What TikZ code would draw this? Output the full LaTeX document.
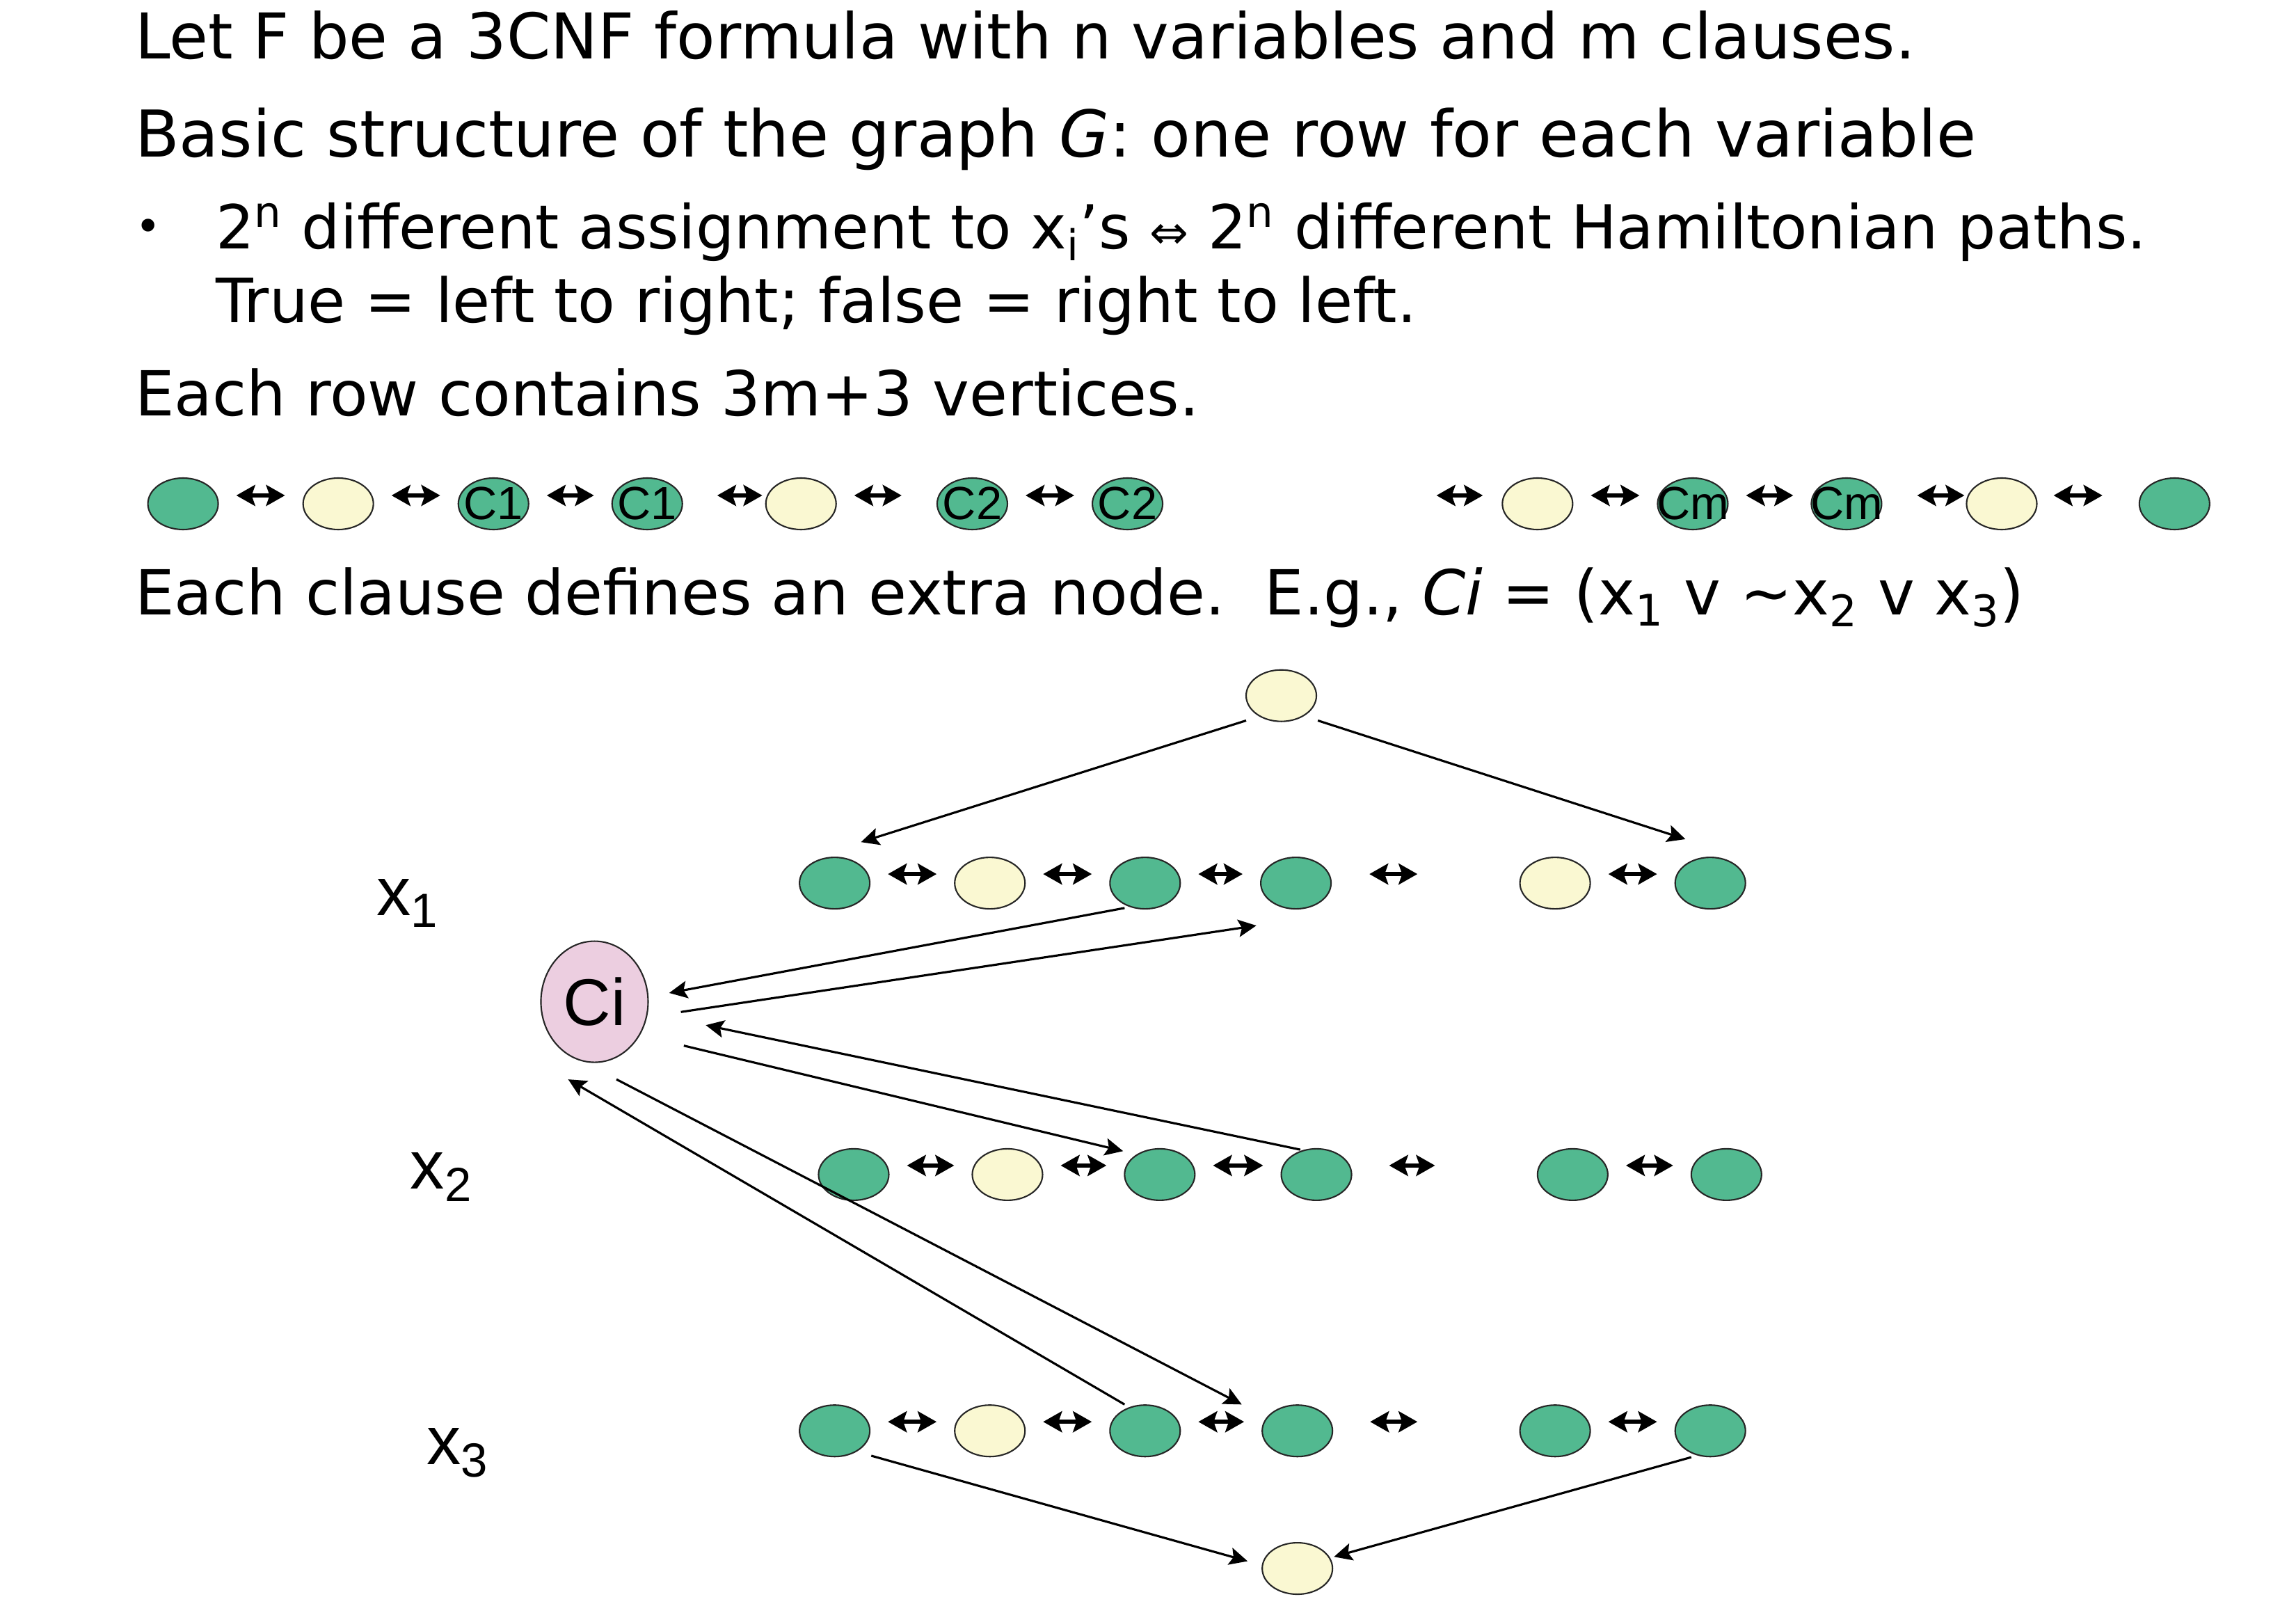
\documentclass[tikz,border=0pt]{standalone}
\usepackage{fontspec}
\setmainfont{DejaVu Sans}[ItalicFont={DejaVu Sans Oblique}]
\newfontfamily\arialfont{Liberation Sans}
\usepackage{xcolor}
\usepackage{tikz}
\usetikzlibrary{arrows.meta, positioning, calc, shapes.geometric}

\definecolor{vgreen}{RGB}{82,185,144}
\definecolor{vyellow}{RGB}{250,248,210}
\definecolor{vpink}{RGB}{236,206,224}

\begin{document}
\begin{tikzpicture}[x=0.021046cm, y=-0.021046cm,
  vtx/.style={ellipse, draw=black!85, line width=0.6pt, minimum width=1.01cm, minimum height=0.74cm, inner sep=0pt},
  gv/.style={vtx, fill=vgreen},
  yv/.style={vtx, fill=vyellow},
  cname/.style={inner sep=0pt, font=\arialfont\fontsize{19pt}{22pt}\selectfont},
  txt/.style={anchor=base west, inner sep=0pt, font=\fontsize{25.8pt}{31pt}\selectfont},
  varlab/.style={anchor=base west, inner sep=0pt, font=\arialfont\fontsize{28pt}{32pt}\selectfont},
  dbl/.style={{Stealth[length=2.7mm,width=3mm,inset=0.5mm]}-{Stealth[length=2.7mm,width=3mm,inset=0.5mm]}, line width=1.6pt},
  arr/.style={-{Stealth[length=2.6mm,width=2.5mm,inset=0.5mm]}, line width=0.9pt}
]
  \useasboundingbox (0,0) rectangle (1568,1101);

  % Text lines
  \node[txt] (l1) at (92,40) {Let F be a 3CNF formula with n variables and m clauses.};
  \node[txt, font=\fontsize{26.4pt}{31pt}\selectfont] (l2) at (92,107) {Basic structure of the graph \textit{G}: one row for each variable};
  \node[txt, font=\fontsize{18pt}{20pt}\selectfont] (bul) at (92,165) {\textbullet};
  \node[txt, font=\fontsize{24.8pt}{31pt}\selectfont] (l3) at (147,170) {2\textsuperscript{n} different assignment to x\textsubscript{i}'s {\fontsize{19pt}{19pt}\selectfont ⇔} 2\textsuperscript{n} different Hamiltonian paths.};
  \node[txt, font=\fontsize{25pt}{31pt}\selectfont] (l4) at (147,220) {True = left to right; false = right to left.};
  \node[txt, font=\fontsize{25.4pt}{31pt}\selectfont] (l5) at (92,284) {Each row contains 3m+3 vertices.};
  \node[txt, font=\fontsize{25.4pt}{31pt}\selectfont] (l6) at (92,420) {Each clause defines an extra node.\ \ E.g., \textit{Ci} = (x\textsubscript{1} v \textasciitilde x\textsubscript{2} v x\textsubscript{3})};

  % One row of the graph
  \foreach \i/\x/\s in {1/125/gv, 2/231/yv, 3/337/gv, 4/442/gv, 5/547/yv, 6/664/gv,
                        7/770/gv, 8/1050/yv, 9/1156/gv, 10/1261/gv, 11/1367/yv, 12/1485/gv}
    \node[\s] (t\i) at (\x,344) {};
  \foreach \i/\t in {3/C1, 4/C1, 6/C2, 7/C2, 9/Cm, 10/Cm}
    \node[cname] (t\i-l) at (t\i) {\t};
  \foreach \a/\b/\l/\r in {1/2/.25/.25, 2/3/.25/.25, 3/4/.25/.25, 4/5/.49/.04, 5/6/.25/.5,
                           6/7/.25/.25, 8/9/.25/.25, 9/10/.25/.25, 10/11/.5/.02, 11/12/.23/.52}
    \draw[dbl, shorten <=\l cm, shorten >=\r cm] ([yshift=1.2mm]t\a.east) -- ([yshift=1.2mm]t\b.west);
  \coordinate (t-gap) at (981,344);
  \draw[dbl, shorten >=0.27cm] ([yshift=1.2mm]t-gap) -- ([yshift=1.2mm]t8.west);

  % Variable rows x1, x2, x3
  \node[yv] (tp) at (875,475) {};
  \foreach \i/\x/\s in {1/570/gv, 2/676/yv, 3/782/gv, 4/885/gv, 5/1062/yv, 6/1168/gv}
    \node[\s] (ra\i) at (\x,603) {};
  \foreach \i/\x/\s in {1/583/gv, 2/688/yv, 3/792/gv, 4/899/gv, 5/1074/gv, 6/1179/gv}
    \node[\s] (rb\i) at (\x,802) {};
  \foreach \i/\x/\s in {1/570/gv, 2/676/yv, 3/782/gv, 4/886/gv, 5/1062/gv, 6/1168/gv}
    \node[\s] (rc\i) at (\x,977) {};
  \node[yv] (bt) at (886,1071) {};

  \foreach \r in {ra, rb, rc} {
    \foreach \a/\b in {1/2, 2/3, 3/4, 5/6}
      \draw[dbl, shorten <=0.25cm, shorten >=0.25cm] ([yshift=1.3mm]\r\a.east) -- ([yshift=1.3mm]\r\b.west);
  }
  \coordinate (ra-gap) at (968,603);
  \coordinate (rb-gap) at (980,802);
  \coordinate (rc-gap) at (968,977);
  \draw[dbl, shorten <=0.54cm] ([yshift=1.3mm]ra4.east) -- ([yshift=1.3mm]ra-gap);
  \draw[dbl, shorten <=0.53cm] ([yshift=1.3mm]rb4.east) -- ([yshift=1.3mm]rb-gap);
  \draw[dbl, shorten <=0.53cm] ([yshift=1.3mm]rc4.east) -- ([yshift=1.3mm]rc-gap);

  \node[varlab] (x1) at (257,625) {x\textsubscript{1}};
  \node[varlab] (x2) at (280,812) {x\textsubscript{2}};
  \node[varlab] (x3) at (291,1000) {x\textsubscript{3}};

  % Clause node
  \node[ellipse, draw=black!85, fill=vpink, line width=0.6pt, minimum width=1.54cm, minimum height=1.74cm,
        inner sep=0pt, font=\arialfont\fontsize{27pt}{30pt}\selectfont] (ci) at (406,684) {Ci};

  % Paths through the rows
  \draw[arr] ($(tp)+(-24,17)$) -- ($(ra1)+(18,-28)$);
  \draw[arr] ($(tp)+(25,17)$) -- ($(ra6)+(-17,-30)$);
  \draw[arr] ($(ra3)+(-14,17)$) -- ($(ci)+(51,-6)$);
  \draw[arr] ($(ci)+(59,7)$) -- ($(ra4)+(-27,29)$);
  \draw[arr] ($(ci)+(61,30)$) -- ($(rb3)+(-25,-16)$);
  \draw[arr] ($(rb4)+(-11,-17)$) -- ($(ci)+(76,16)$);
  \draw[arr] ($(rc3)+(-14,-18)$) -- ($(ci)+(-18,53)$);
  \draw[arr] ($(ci)+(15,53)$) -- ($(rc4)+(-38,-18)$);
  \draw[arr] ($(rc1)+(25,17)$) -- ($(bt)+(-34,-5)$);
  \draw[arr] ($(rc6)+(-13,18)$) -- ($(bt)+(25,-8)$);
\end{tikzpicture}
\end{document}
